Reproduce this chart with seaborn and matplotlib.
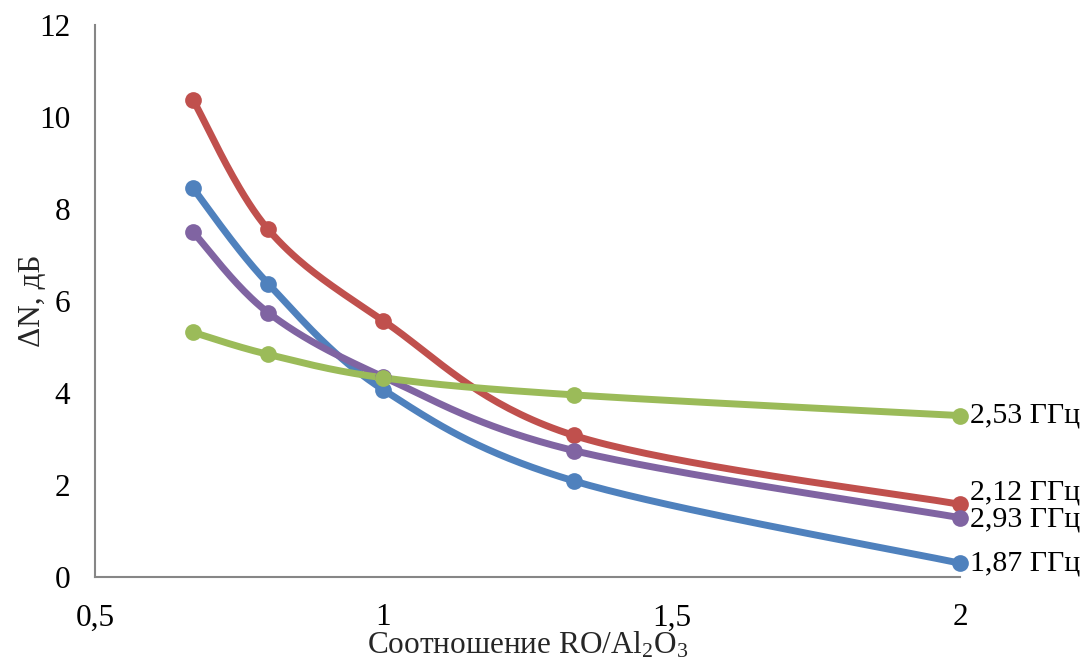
import numpy as np
import pandas as pd
import matplotlib
matplotlib.use("Agg")
import matplotlib.pyplot as plt
import seaborn as sns

# ---- data ----
ratio = [0.67, 0.8, 1.0, 1.33, 2.0]
f187 = [8.45, 6.38, 4.07, 2.09, 0.30]
f212 = [10.37, 7.56, 5.57, 3.08, 1.58]
f293 = [7.50, 5.75, 4.35, 2.75, 1.29]
f253 = [5.32, 4.84, 4.33, 3.96, 3.51]
series_labels = ["1,87 ГГц", "2,12 ГГц", "2,93 ГГц", "2,53 ГГц"]
series_values = [f187, f212, f293, f253]
colors = ["#4F81BD", "#C0504D", "#8064A2", "#9BBB59"]
label_dy = [0, 0.25, -0.05, 0]   # small vertical nudges of end labels
xticks = [0.5, 1.0, 1.5, 2.0]
xticklabels = ["0,5", "1", "1,5", "2"]
yticks = [0, 2, 4, 6, 8, 10, 12]

sns.set_theme(style="white")
plt.rcParams["font.family"] = ["Liberation Serif", "DejaVu Serif"]
plt.rcParams["mathtext.fontset"] = "custom"
plt.rcParams["mathtext.rm"] = "Liberation Serif"
plt.rcParams["mathtext.it"] = "Liberation Serif:italic"


def smooth(xs, ys, n=40):
    """Excel-like smoothing: Catmull-Rom converted to cubic Bezier segments."""
    P = np.column_stack([xs, ys]).astype(float)
    P = np.vstack([P[0], P, P[-1]])
    out = []
    t = np.linspace(0, 1, n)[:, None]
    for i in range(1, len(P) - 2):
        p0, p1, p2, p3 = P[i - 1], P[i], P[i + 1], P[i + 2]
        c1 = p1 + (p2 - p0) / 6.0
        c2 = p2 - (p3 - p1) / 6.0
        seg = ((1 - t) ** 3) * p1 + 3 * ((1 - t) ** 2) * t * c1 + 3 * (1 - t) * t ** 2 * c2 + t ** 3 * p2
        out.append(seg if i == 1 else seg[1:])
    arr = np.vstack(out)
    return arr[:, 0], arr[:, 1]


fig = plt.figure(figsize=(10.85, 6.59), dpi=100)
ax = fig.add_axes([0.0876, 0.1244, 0.7972, 0.8376])

for lab, vals, col, dy in zip(series_labels, series_values, colors, label_dy):
    sx, sy = smooth(ratio, vals)
    df = pd.DataFrame({"x": sx, "y": sy})
    sns.lineplot(data=df, x="x", y="y", sort=False, estimator=None, color=col,
                 linewidth=5, ax=ax, clip_on=False, solid_capstyle="round")
    sns.scatterplot(x=ratio, y=vals, color=col, s=145, edgecolor=col, linewidth=0,
                    ax=ax, clip_on=False, zorder=5)
    ax.annotate(lab, xy=(ratio[-1], vals[-1] + dy), xytext=(7, 0), textcoords="offset points",
                ha="left", va="center", fontsize=21.5, color="black", annotation_clip=False)

ax.set_xlim(0.5, 2.0)
ax.set_ylim(0, 12)
ax.set_xticks(xticks)
ax.set_xticklabels(xticklabels)
ax.set_yticks(yticks)
ax.set_yticklabels([str(v) for v in yticks])

for s in ["top", "right"]:
    ax.spines[s].set_visible(False)
for s in ["left", "bottom"]:
    ax.spines[s].set_color("#868686")
    ax.spines[s].set_linewidth(1.5)

ax.tick_params(axis="both", direction="in", length=6, width=1.3, color="#868686",
               labelsize=22.5, labelcolor="black")
ax.tick_params(axis="y", pad=18)
ax.tick_params(axis="x", pad=19)

ax.set_xlabel("Соотношение RO/Al$_2$O$_3$", fontsize=22.5, labelpad=-2)
ax.set_ylabel("ΔN, дБ", fontsize=22.5, labelpad=-6)

fig.savefig("out.png", dpi=100, facecolor="white")
